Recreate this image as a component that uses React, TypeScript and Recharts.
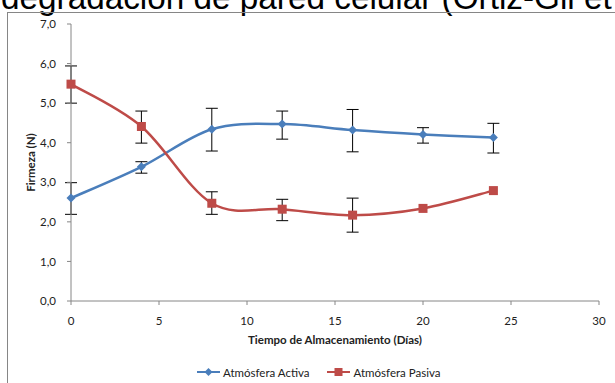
import React from 'react';
import { LineChart, Line, XAxis, YAxis, ErrorBar, Label } from 'recharts';

// datos
const dias = [0, 4, 8, 12, 16, 20, 24];
const activa = [2.6, 3.39, 4.34, 4.47, 4.32, 4.21, 4.13];
const activaLow = [2.19, 3.23, 3.79, 4.09, 3.77, 3.99, 3.74];
const activaHigh = [2.99, 3.52, 4.87, 4.8, 4.84, 4.38, 4.49];
const pasiva = [5.48, 4.41, 2.47, 2.32, 2.17, 2.34, 2.79];
const pasivaLow: (number | null)[] = [5.0, 3.99, 2.19, 2.03, 1.74, null, null];
const pasivaHigh: (number | null)[] = [5.94, 4.8, 2.76, 2.57, 2.6, null, null];

const xTicks = [0, 5, 10, 15, 20, 25, 30];
const yTicks = [0, 1, 2, 3, 4, 5, 6, 7];

const BLUE = '#4a7ebb';
const RED = '#be4b48';
const AXIS = '#868686';
const FONT = 'Lato, "Open Sans", sans-serif';
const FS = 11.5;

const data = dias.map((d, i) => ({
    dia: d,
    activa: activa[i],
    activaErr: [activa[i] - activaLow[i], activaHigh[i] - activa[i]],
    pasiva: pasiva[i],
    pasivaErr:
        pasivaLow[i] == null ? null : [pasiva[i] - (pasivaLow[i] as number), (pasivaHigh[i] as number) - pasiva[i]],
}));

// suavizado tipo Excel (Catmull-Rom)
const excelSmooth = (context: any) => {
    let pts: [number, number][] = [];
    return {
        areaStart() {},
        areaEnd() {},
        lineStart() {
            pts = [];
        },
        lineEnd() {
            if (!pts.length) return;
            context.moveTo(pts[0][0], pts[0][1]);
            for (let i = 0; i < pts.length - 1; i++) {
                const p0 = pts[i - 1] || pts[i];
                const p1 = pts[i];
                const p2 = pts[i + 1];
                const p3 = pts[i + 2] || p2;
                context.bezierCurveTo(
                    p1[0] + (p2[0] - p0[0]) / 6,
                    p1[1] + (p2[1] - p0[1]) / 6,
                    p2[0] - (p3[0] - p1[0]) / 6,
                    p2[1] - (p3[1] - p1[1]) / 6,
                    p2[0],
                    p2[1]
                );
            }
        },
        point(x: number, y: number) {
            pts.push([x, y]);
        },
    };
};

const Diamond = (props: any) => {
    const { cx, cy } = props;
    if (cx == null || cy == null) return null;
    const r = 4.5;
    return <path d={`M${cx},${cy - r}L${cx + r},${cy}L${cx},${cy + r}L${cx - r},${cy}Z`} fill={BLUE} />;
};

const Square = (props: any) => {
    const { cx, cy } = props;
    if (cx == null || cy == null) return null;
    const r = 4.5;
    return <rect x={cx - r} y={cy - r} width={r * 2} height={r * 2} fill={RED} />;
};

const fmt = (v: number) => v.toFixed(1).replace('.', ',');

export default function App() {
    return (
        <div style={{ position: 'absolute', left: 0, top: 0, width: 615, height: 383, overflow: 'hidden', background: '#fff' }}>
            <svg width={615} height={20} style={{ position: 'absolute', left: 0, top: 0 }}>
                <text x={1} y={8.5} fontSize={33.3} fontFamily='"Liberation Sans", Arial, sans-serif' fill="#000">
                    degradación de pared celular (Ortiz-Gil et al.
                </text>
            </svg>
            <div
                style={{
                    position: 'absolute',
                    left: 7,
                    top: 12,
                    width: 640,
                    height: 420,
                    border: `1px solid ${AXIS}`,
                    boxSizing: 'border-box',
                }}
            />
            <div style={{ position: 'absolute', left: 0, top: 0 }}>
                <LineChart width={615} height={383} data={data} margin={{ top: 24, right: 16, bottom: 52, left: 0 }}>
                    <XAxis
                        dataKey="dia"
                        type="number"
                        domain={[0, 30]}
                        ticks={xTicks}
                        height={30}
                        tickSize={4}
                        tickMargin={12}
                        stroke={AXIS}
                        tick={{ fill: '#222', fontSize: FS, fontFamily: FONT }}
                    >
                        <Label
                            content={(p: any) => {
                                const vb = p.viewBox;
                                return (
                                    <text
                                        x={vb.x + vb.width / 2}
                                        y={vb.y + 43}
                                        textAnchor="middle"
                                        fontSize={FS}
                                        fontWeight={700}
                                        fontFamily={FONT}
                                        fill="#222"
                                    >
                                        Tiempo de Almacenamiento (Días)
                                    </text>
                                );
                            }}
                        />
                    </XAxis>
                    <YAxis
                        type="number"
                        domain={[0, 7]}
                        ticks={yTicks}
                        width={71}
                        tickSize={4}
                        tickMargin={11}
                        tickFormatter={fmt}
                        stroke={AXIS}
                        tick={{ fill: '#222', fontSize: FS, fontFamily: FONT }}
                    >
                        <Label
                            content={(p: any) => {
                                const vb = p.viewBox;
                                const cy = vb.y + vb.height / 2;
                                return (
                                    <text
                                        x={30}
                                        y={cy}
                                        transform={`rotate(-90 30 ${cy})`}
                                        textAnchor="middle"
                                        dominantBaseline="central"
                                        fontSize={FS}
                                        fontWeight={700}
                                        fontFamily={FONT}
                                        fill="#222"
                                    >
                                        Firmeza (N)
                                    </text>
                                );
                            }}
                        />
                    </YAxis>
                    <Line
                        dataKey="activa"
                        type={excelSmooth as any}
                        stroke={BLUE}
                        strokeWidth={2.5}
                        dot={<Diamond />}
                        activeDot={false}
                        isAnimationActive={false}
                    >
                        <ErrorBar dataKey="activaErr" direction="y" width={6} stroke="#000" strokeWidth={1} />
                    </Line>
                    <Line
                        dataKey="pasiva"
                        type={excelSmooth as any}
                        stroke={RED}
                        strokeWidth={2.5}
                        dot={<Square />}
                        activeDot={false}
                        isAnimationActive={false}
                    >
                        <ErrorBar dataKey="pasivaErr" direction="y" width={6} stroke="#000" strokeWidth={1} />
                    </Line>
                </LineChart>
            </div>
            <div
                style={{
                    position: 'absolute',
                    left: 197,
                    top: 365,
                    display: 'flex',
                    alignItems: 'center',
                    fontFamily: FONT,
                    fontSize: FS,
                    color: '#222',
                    whiteSpace: 'nowrap',
                    height: 14,
                }}
            >
                <svg width={24} height={10} style={{ marginRight: 2 }}>
                    <line x1={0} y1={5} x2={23} y2={5} stroke={BLUE} strokeWidth={2} />
                    <path d="M11.5,1L15.5,5L11.5,9L7.5,5Z" fill={BLUE} />
                </svg>
                <span>Atmósfera Activa</span>
                <svg width={24} height={10} style={{ marginLeft: 17, marginRight: 3 }}>
                    <line x1={0} y1={5} x2={23} y2={5} stroke={RED} strokeWidth={2} />
                    <rect x={7.5} y={1} width={8} height={8} fill={RED} />
                </svg>
                <span>Atmósfera Pasiva</span>
            </div>
        </div>
    );
}
